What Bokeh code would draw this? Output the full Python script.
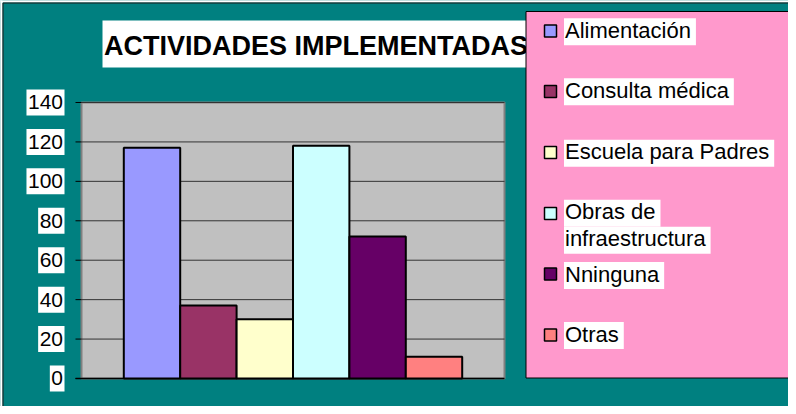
from bokeh.plotting import figure
from bokeh.models import Range1d, ColumnDataSource
from bokeh.core.properties import value
from bokeh.embed import file_html
from bokeh.resources import INLINE

# ---- data ----
categories = ["Alimentación", "Consulta médica", "Escuela para Padres",
              "Obras de\ninfraestructura", "Nninguna", "Otras"]
values = [117, 37, 30, 118, 72, 11]
colors = ["#9999FF", "#993366", "#FFFFCC", "#CCFFFF", "#660066", "#FF8080"]
y_ticks = [0, 20, 40, 60, 80, 100, 120, 140]
title_text = "ACTIVIDADES IMPLEMENTADAS"

FONT = "Liberation Sans"
W, H = 788, 406
TEAL = "#008080"

# ---- layout (canvas pixels) ----
PL, PR, PT, PB = 81, 504, 102, 378      # plot (gray) area
XMAX, YMAX = 7.5, 140.0
SX = (PR - PL) / XMAX                   # px per x unit
SY = (PB - PT) / YMAX                   # px per y unit
BASE_FIX = 0.36                         # renderer baseline offset (em)


def dx(cx):
    return (cx - PL) / SX


def dy(cy):
    return (PB - cy) / SY


def base_y(baseline_px, fs):
    """data y for a text whose baseline should sit at canvas y baseline_px"""
    return dy(baseline_px - BASE_FIX * fs)


p = figure(width=W, height=H, output_backend="svg", toolbar_location=None,
           x_range=Range1d(dx(0), dx(W)), y_range=Range1d(dy(H), dy(0)),
           x_axis_location=None, y_axis_location=None,
           min_border=0, min_border_left=0, min_border_right=0,
           min_border_top=0, min_border_bottom=0)
p.border_fill_color = TEAL
p.background_fill_color = TEAL
p.outline_line_color = None
p.grid.visible = False

# Arial / Liberation Sans advance widths (per 1000 em)
AW = {' ': 278, 'A': 667, 'C': 722, 'E': 667, 'N': 722, 'O': 778, 'P': 667,
      'a': 556, 'b': 556, 'c': 500, 'd': 556, 'e': 556, 'f': 278, 'g': 556,
      'i': 222, 'l': 222, 'm': 833, 'n': 556, 'o': 556, 'ó': 556, 'é': 556,
      'p': 556, 'r': 333, 's': 500, 't': 278, 'u': 556}


def text_w(s, size):
    return sum(AW.get(ch, 556) for ch in s) / 1000.0 * size


# ---- outer edge (white margin strip + dark line) ----
p.quad(left=[dx(-20), dx(-20)], right=[dx(2), dx(W + 20)],
       top=[dy(-20), dy(-20)], bottom=[dy(H + 20), dy(2)],
       fill_color="white", line_color=None)
p.segment(x0=[dx(2.5), dx(2.5)], y0=[dy(2.5), dy(2.5)],
          x1=[dx(2.5), dx(W + 20)], y1=[dy(H + 20), dy(2.5)],
          line_color="#1a1a1a", line_width=1)

# ---- plot area ----
p.quad(left=[0], right=[XMAX], bottom=[0], top=[YMAX],
       fill_color="#C0C0C0", line_color="#808080", line_width=2)

# grid lines
grid_t = [t for t in y_ticks if t > 0]
p.segment(x0=[0] * len(grid_t), x1=[XMAX] * len(grid_t), y0=grid_t,
          y1=grid_t, line_color="#333333", line_width=1)
# tick marks (outside)
p.segment(x0=[dx(PL - 6)] * len(y_ticks), x1=[0] * len(y_ticks), y0=y_ticks,
          y1=y_ticks, line_color="black", line_width=1)
# bottom axis line
p.segment(x0=[dx(PL - 6)], x1=[XMAX], y0=[0], y1=[0], line_color="black",
          line_width=1.5)

# ---- bars ----
xs = [1.25 + i for i in range(len(values))]
src = ColumnDataSource(dict(x=xs, top=values, color=colors))
p.vbar(x="x", top="top", width=1.0, bottom=0, fill_color="color",
       line_color="black", line_width=2, source=src)

# ---- y tick labels with white backgrounds ----
TICK_FS = 21
lab_right = 62.5
tick_txt = [str(t) for t in y_ticks]
tick_cy = [PB - t * SY for t in y_ticks]
p.quad(left=[dx(lab_right - text_w(s, TICK_FS) - 1.5) for s in tick_txt],
       right=[dx(lab_right + 1.5)] * len(y_ticks),
       top=[dy(c - 13) for c in tick_cy], bottom=[dy(c + 13) for c in tick_cy],
       fill_color="white", line_color=None)
p.text(x=[dx(lab_right)] * len(y_ticks),
       y=[base_y(c + 7.5, TICK_FS) for c in tick_cy],
       text=tick_txt, text_font=value(FONT),
       text_font_size=value(f"{TICK_FS}px"), text_color="black",
       text_align="right", text_baseline="alphabetic")

# ---- title ----
TITLE_FS = 27
p.quad(left=[dx(102)], right=[dx(530)], top=[dy(20)], bottom=[dy(67)],
       fill_color="white", line_color=None)
p.text(x=[dx(103.5)], y=[base_y(55.3, TITLE_FS)], text=[title_text],
       text_font=value(FONT), text_font_size=value(f"{TITLE_FS}px"),
       text_font_style="bold", text_color="black", text_align="left",
       text_baseline="alphabetic")

# ---- legend ----
p.quad(left=[dx(525.5)], right=[dx(W + 20)], top=[dy(11)], bottom=[dy(377.5)],
       fill_color="#FF99CC", line_color="black", line_width=1)

swatch_cy = [30.5, 91, 152, 213, 273.5, 334.5]
line_cy = [31.3, 91.3, 152.7, 212.7, 275, 335]
LEG_FS = 22
LINE_PITCH = 27
p.quad(left=[dx(544)] * len(colors), right=[dx(556)] * len(colors),
       top=[dy(c - 6) for c in swatch_cy], bottom=[dy(c + 6) for c in swatch_cy],
       fill_color=colors, line_color="black", line_width=1.5)

lx, ly, lt, bl, br, bt, bb = [], [], [], [], [], [], []
for name, cy in zip(categories, line_cy):
    for k, line in enumerate(name.split("\n")):
        c = cy + k * LINE_PITCH
        lt.append(line)
        lx.append(dx(564.5))
        ly.append(base_y(c + 6.7, LEG_FS))
        bl.append(dx(563.5))
        br.append(dx(564.5 + text_w(line, LEG_FS) + 5))
        bt.append(dy(c - 13.5))
        bb.append(dy(c + 13.5))
p.quad(left=bl, right=br, top=bt, bottom=bb, fill_color="white",
       line_color=None)
p.text(x=lx, y=ly, text=lt, text_font=value(FONT),
       text_font_size=value(f"{LEG_FS}px"), text_color="black",
       text_align="left", text_baseline="alphabetic")

open("out.html", "w").write(file_html(p, INLINE))
